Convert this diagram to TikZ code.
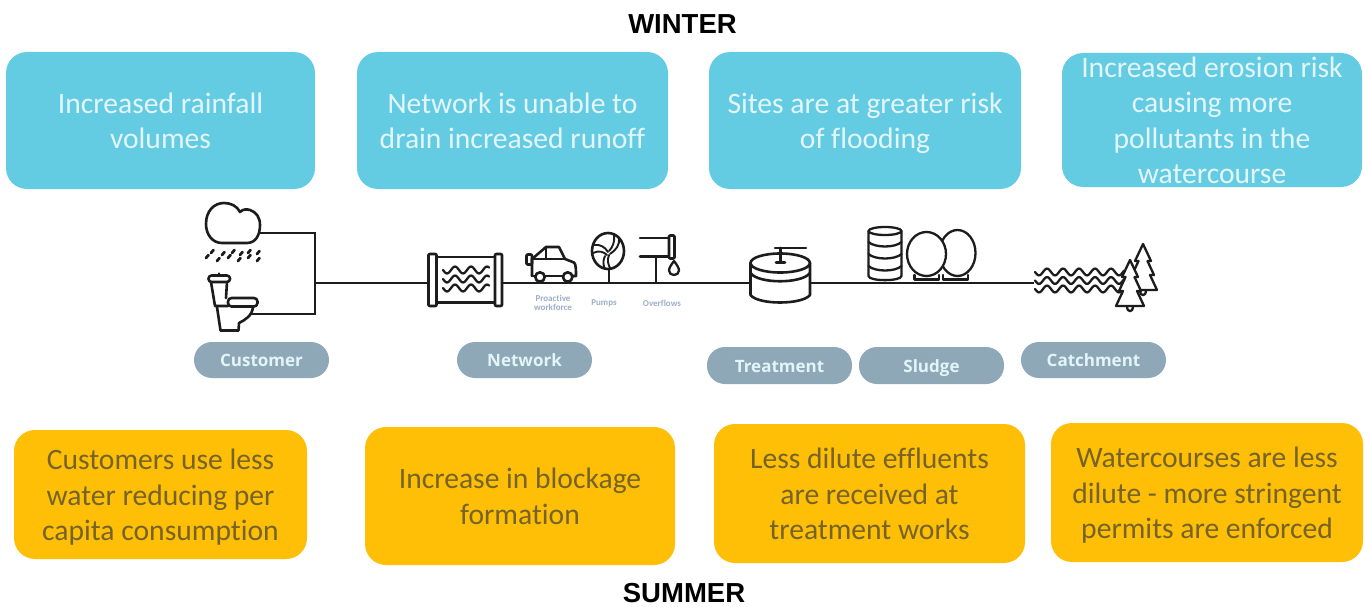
\documentclass[tikz,border=0pt]{standalone}
\usepackage{fontspec}
\setmainfont{Carlito}[Ligatures=NoCommon]
\newfontfamily\pillfont{Open Sans}
\newfontfamily\headfont{Liberation Sans}
\definecolor{winterblue}{HTML}{63CCE3}
\definecolor{summerorange}{HTML}{FEBF06}
\definecolor{pillgrey}{HTML}{8EA8B8}
\definecolor{wintertext}{HTML}{E4F5F9}
\definecolor{summertext}{HTML}{75632A}
\definecolor{smalltext}{HTML}{9DAEC8}
\definecolor{ink}{HTML}{1C1C1C}
\newcommand{\ls}{\rule[-7.15pt]{0pt}{35.3pt}}
\tikzset{
  x=1pt,y=-1pt,
  infobox/.style={rounded corners=21pt,inner sep=0pt,align=center,
    font=\fontsize{29.6}{35.3}\selectfont},
  winterbox/.style={infobox,fill=winterblue,text=wintertext},
  summerbox/.style={infobox,fill=summerorange,text=summertext},
  stagepill/.style={fill=pillgrey,text=wintertext,rounded corners=18pt,inner sep=0pt,
    text height=14.5pt,text depth=1.5pt,
    font=\pillfont\bfseries\fontsize{17}{20}\selectfont},
  heading/.style={font=\headfont\bfseries\fontsize{27.5}{30}\selectfont,text=black,inner sep=0pt},
  smalllabel/.style={font=\bfseries\fontsize{9}{10}\selectfont,text=smalltext,align=center,inner sep=0pt},
  icon/.style={draw=ink,line width=2.6pt,line join=round,line cap=round},
  thinicon/.style={icon,line width=2.3pt},
  connector/.style={draw=ink,line width=2.9pt,line join=miter}
}
\newcommand{\wavyline}[4]{\draw[thinicon] plot[domain=0:#2-#1,samples=100] ({#1+\x},{#3+3.4*sin(\x/#4*360)});}
\newcommand{\treeicon}[2]{%
  \begin{scope}[shift={(#1,#2)}]
    \draw[thinicon,fill=white] (-3,46) .. controls (-3,53) and (3,53) .. (3,46);
    \draw[thinicon,fill=white] (0,0) -- (-8,17) -- (-4.5,17) -- (-11,31) -- (-7,31) -- (-14,46)
      -- (14,46) -- (7,31) -- (11,31) -- (4.5,17) -- (8,17) -- cycle;
  \end{scope}}
\begin{document}
\begin{tikzpicture}
\useasboundingbox (0,0) rectangle (1365,607);
\fill[white] (0,0) rectangle (1365,607);

\node[heading] (winter) at (682.5,24) {WINTER};
\node[heading] (summer) at (684,593) {SUMMER};

% winter boxes
\node[winterbox,minimum width=309pt,minimum height=137pt] (w1) at (160.5,120.5) {\ls Increased rainfall\\\ls volumes};
\node[winterbox,minimum width=311pt,minimum height=137pt] (w2) at (512.5,120.5) {\ls Network is unable to\\\ls drain increased runoff};
\node[winterbox,minimum width=312pt,minimum height=137pt] (w3) at (865,120.5) {\ls Sites are at greater risk\\\ls of flooding};
\node[winterbox,minimum width=300pt,minimum height=134pt] (w4) at (1212,120) {};
\node[infobox,text=wintertext] (w4text) at (w4.center) {\ls Increased erosion risk\\causing more\\pollutants in the\\\ls watercourse};

% summer boxes
\node[summerbox,minimum width=293pt,minimum height=129pt] (s1) at (160.5,494.5) {\ls Customers use less\\water reducing per\\\ls capita consumption};
\node[summerbox,minimum width=310pt,minimum height=138pt] (s2) at (520,496) {\ls Increase in blockage\\\ls formation};
\node[summerbox,minimum width=311pt,minimum height=139pt] (s3) at (869.5,493.5) {\ls Less dilute effluents\\are received at\\\ls treatment works};
\node[summerbox,minimum width=312pt,minimum height=139pt] (s4) at (1207,492.5) {\ls Watercourses are less\\dilute - more stringent\\\ls permits are enforced};

% stage pills
\node[stagepill,minimum width=135pt,minimum height=36pt] (customer) at (261.5,360) {Customer};
\node[stagepill,minimum width=135pt,minimum height=36pt] (network) at (524.5,360) {Network};
\node[stagepill,minimum width=145pt,minimum height=37pt] (treatment) at (779.5,365.5) {Treatment};
\node[stagepill,minimum width=145pt,minimum height=37pt] (sludge) at (931.5,365.5) {Sludge};
\node[stagepill,minimum width=145pt,minimum height=36pt] (catchment) at (1093.5,360) {Catchment};

% small labels
\node[smalllabel] (proactive) at (553,303) {Proactive\\[-0.5pt]workforce};
\node[smalllabel] (pumps) at (604,303) {Pumps};
\node[smalllabel] (overflows) at (662,303) {Overflows};

% connector anchors
\coordinate (cloudEnd) at (260,233);
\coordinate (toiletEnd) at (250,314);
\coordinate (busTop) at (315,233);
\coordinate (busBot) at (315,314);
\coordinate (busMid) at (315,283);
\coordinate (screenL) at (428,283);
\coordinate (screenR) at (502,283);
\coordinate (tankL) at (750,283);
\coordinate (tankR) at (810,283);
\coordinate (riverL) at (1034,283);
\coordinate (pumpStem) at (609,283);
\coordinate (overflowStem) at (656,283);

% connectors
\draw[connector] (cloudEnd) -- (busTop) -- (busBot) -- (toiletEnd);
\draw[connector] (busMid) -- (screenL);
\draw[connector] (screenR) -- (tankL);
\draw[connector] (tankR) -- (riverL);

% cloud
\draw[icon] (222,243) .. controls (212,243) and (206,234) .. (206,224)
  .. controls (206,211) and (214,203) .. (224,203)
  .. controls (231,203) and (237,206) .. (240,212)
  .. controls (243,209) and (247,209) .. (250,210)
  .. controls (256,212) and (260,217) .. (260,225)
  .. controls (260,236) and (255,243) .. (247,243) -- cycle;
% rain
\foreach \xa/\ya in {206/258,217/261,228/258,238/261,248/258,257/261}
  \draw[icon,line width=2.8pt] (\xa,\ya) -- ++(2.5,-3);
\foreach \xa/\ya in {211/253,222/255,232/253,240/255,248/253,257/254}
  \draw[icon,line width=2.8pt] (\xa,\ya) -- ++(2.5,-3);

% toilet
\draw[icon,rounded corners=3pt] (208.5,275.5) rectangle (230,282);
\draw[icon] (219,274) -- (219,273.5);
\draw[icon] (211,282) -- (215,306) -- (228,306);
\draw[icon] (227,282) -- (226,298);
\draw[icon,rounded corners=3.5pt] (228,298) rectangle (257.5,306.5);
\draw[icon] (217,307) -- (220.5,330.5) -- (238.5,330.5) -- (239,323) .. controls (245,320) and (252,316) .. (253,307);

% screen
\draw[icon] (436,257) -- (494,257);
\draw[icon] (436,302.5) -- (494,302.5);
\draw[icon,rounded corners=1pt,fill=white] (428.5,254) rectangle (436.5,306);
\draw[icon,rounded corners=1pt,fill=white] (495,254) rectangle (502,306);
\wavyline{443}{489}{270}{16}
\wavyline{443}{489}{279}{16}
\wavyline{443}{489}{288}{16}

% car
\draw[icon] (532,276) -- (532,259) -- (546,247) -- (559,247) -- (565,259) -- (574,262.5) .. controls (576,264) and (576,270) .. (576,276) -- (572.5,276);
\draw[icon] (545,276) -- (562.5,276);
\draw[icon] (532,276) -- (535,276);
\draw[icon] (532,259) -- (565,259);
\draw[icon] (546,247) -- (546,259);
\draw[icon,rounded corners=1pt] (526.5,254.5) rectangle (532,264.5);
\draw[icon] (540,277) circle[radius=4.7pt];
\draw[icon] (567.7,277) circle[radius=4.7pt];

% pump
\draw[icon] (608,251) circle[x radius=16pt,y radius=18pt];
\draw[thinicon,line width=1.9pt] (594,245) .. controls (600,244) and (605,247) .. (608,252);
\draw[thinicon,line width=1.9pt] (593,253) .. controls (599,250) and (604,252) .. (607,255);
\draw[thinicon,line width=1.9pt] (614,235) .. controls (615,241) and (613,247) .. (609,251);
\draw[thinicon,line width=1.9pt] (619,238) .. controls (620,245) and (616,250) .. (610,254);
\draw[thinicon,line width=1.9pt] (609,255) .. controls (607,260) and (608,264) .. (610,268);
\draw[thinicon,line width=1.9pt] (605,256) .. controls (603,260) and (603,264) .. (604.5,268);
\draw[thinicon] (609,269) -- (pumpStem);

% overflow
\draw[icon] (640,238) -- (668,238);
\draw[icon] (640,256.5) -- (668,256.5);
\draw[icon,rounded corners=1pt] (669,235.5) rectangle (674.5,258.5);
\draw[thinicon] (656,256.5) -- (overflowStem);
\draw[thinicon] (674,261) .. controls (671,265) and (669,268) .. (669,270.5)
  .. controls (669,276.5) and (679,276.5) .. (679,270.5)
  .. controls (679,268) and (677,265) .. (674,261);

% treatment tank
\draw[icon,fill=white] (750.5,263) -- (750.5,295) .. controls (758,305) and (802,305) .. (810,295) -- (810,263);
\draw[icon,fill=white] (780.2,263) ellipse[x radius=29.7pt,y radius=9.5pt];
\draw[icon] (750.5,273) .. controls (758,284) and (802,284) .. (810,273);
\draw[icon] (775,248) -- (806,248);
\draw[icon] (780.5,248) -- (780.5,262.5);
\draw[icon] (776,262.5) -- (785,262.5);

% sludge cylinder
\draw[thinicon,fill=white] (868.5,231) -- (868.5,276) .. controls (869,281.5) and (901,281.5) .. (901.5,276) -- (901.5,231);
\draw[thinicon] (885,231) ellipse[x radius=16.5pt,y radius=4pt];
\draw[thinicon] (868.5,242) .. controls (875,248) and (895,248) .. (901.5,242);
\draw[thinicon] (868.5,254) .. controls (875,260) and (895,260) .. (901.5,254);
\draw[thinicon] (868.5,266) .. controls (875,272) and (895,272) .. (901.5,266);

% sludge spheres
\draw[thinicon] (914.5,275) -- (914.5,279.5) -- (939,279.5) -- (939,275);
\draw[thinicon] (943,275) -- (943,279.5) -- (968,279.5) -- (968,275);
\draw[thinicon,fill=white] (957.5,253) ellipse[x radius=18pt,y radius=23pt];
\draw[thinicon,fill=white] (926.5,254) ellipse[x radius=19.5pt,y radius=22pt];

% catchment
\wavyline{1035}{1124}{272}{16}
\wavyline{1035}{1124}{280.5}{16}
\wavyline{1035}{1124}{289}{16}
\treeicon{1143}{244}
\treeicon{1130}{260}
\end{tikzpicture}
\end{document}
